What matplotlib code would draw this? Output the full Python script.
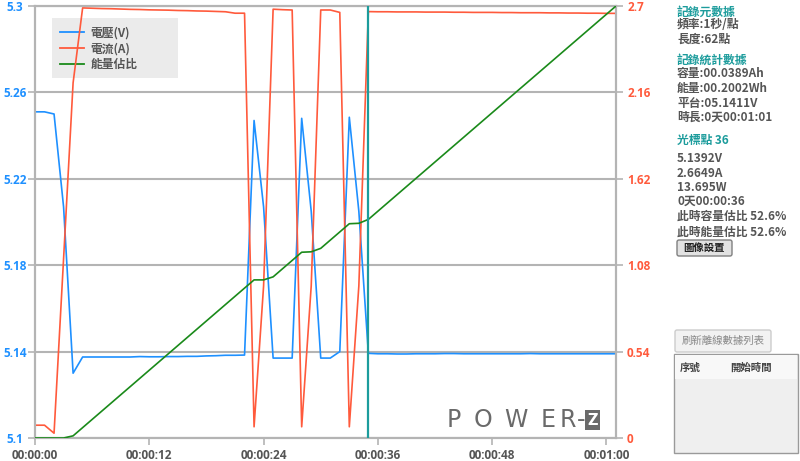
import matplotlib
matplotlib.use('Agg')
import matplotlib.pyplot as plt
from matplotlib.lines import Line2D
from matplotlib.patches import Rectangle, FancyBboxPatch

plt.rcParams['font.family'] = ['Noto Sans CJK TC', 'DejaVu Sans']

# one sample per second, 62 points
seconds = list(range(62))

# 電壓 (V)
voltage = [5.251, 5.251, 5.250, 5.207, 5.130, 5.1375, 5.1375, 5.1375, 5.1375, 5.1375,
           5.1375, 5.1377, 5.1376, 5.1376, 5.1377, 5.1377, 5.1378, 5.1378, 5.1380, 5.1381,
           5.1383, 5.1383, 5.1384, 5.247, 5.207, 5.137, 5.137, 5.137, 5.248, 5.205,
           5.137, 5.137, 5.140, 5.2485, 5.205, 5.1392, 5.1390, 5.1390, 5.1389, 5.1389,
           5.1390, 5.1390, 5.1390, 5.1391, 5.1391, 5.1390, 5.1390, 5.1390, 5.1390, 5.1390,
           5.1390, 5.1390, 5.1391, 5.1390, 5.1390, 5.1390, 5.1390, 5.1390, 5.1390, 5.1390,
           5.1390, 5.1390]

# 電流 (A)
current = [0.08, 0.08, 0.03, 1.12, 2.22, 2.688, 2.686, 2.684, 2.683, 2.681,
           2.679, 2.678, 2.676, 2.675, 2.674, 2.672, 2.671, 2.669, 2.668, 2.666,
           2.664, 2.655, 2.655, 0.07, 0.95, 2.68, 2.677, 2.675, 0.07, 0.95,
           2.675, 2.675, 2.66, 0.07, 0.95, 2.665, 2.664, 2.664, 2.663, 2.663,
           2.663, 2.662, 2.662, 2.662, 2.661, 2.661, 2.660, 2.660, 2.660, 2.659,
           2.659, 2.658, 2.658, 2.658, 2.657, 2.657, 2.656, 2.656, 2.655, 2.655,
           2.654, 2.654]

# 能量估比 (%)
energy_pct = [0, 0, 0, 0, 0.5, 2.4, 4.3, 6.2, 8.1, 10.0,
              11.9, 13.8, 15.7, 17.6, 19.5, 21.4, 23.3, 25.2, 27.1, 29.0,
              30.9, 32.8, 34.7, 36.6, 36.6, 37.3, 39.2, 41.1, 43.0, 43.1,
              43.9, 45.8, 47.7, 49.6, 49.7, 50.6, 52.5, 54.4, 56.3, 58.2,
              60.1, 62.0, 63.9, 65.8, 67.7, 69.6, 71.5, 73.4, 75.3, 77.2,
              79.1, 81.0, 82.9, 84.8, 86.7, 88.6, 90.5, 92.4, 94.3, 96.2,
              98.1, 100.0]

cursor_sec = 35

x_ticks = [0, 12, 24, 36, 48, 60]
x_labels = ['00:00:00', '00:00:12', '00:00:24', '00:00:36', '00:00:48', '00:01:00']
v_ticks = [5.1, 5.14, 5.18, 5.22, 5.26, 5.3]
v_labels = ['5.1', '5.14', '5.18', '5.22', '5.26', '5.3']
a_ticks = [0, 0.54, 1.08, 1.62, 2.16, 2.7]
a_labels = ['0', '0.54', '1.08', '1.62', '2.16', '2.7']

legend_labels = ['電壓(V)', '電流(A)', '能量佔比']

info_lines = [
    ('記錄元數據', True), ('頻率:1秒/點', False), ('長度:62點', False),
    ('記錄統計數據', True), ('容量:00.0389Ah', False), ('能量:00.2002Wh', False),
    ('平台:05.1411V', False), ('時長:0天00:01:01', False),
    ('光標點 36', True), ('5.1392V', False), ('2.6649A', False), ('13.695W', False),
    ('0天00:00:36', False), ('此時容量估比 52.6%', False), ('此時能量估比 52.6%', False),
]
info_y = [12, 25, 39, 60, 74, 88, 103, 117, 140, 158, 173, 187, 201, 216, 232]

BLUE = '#1e90ff'
RED = '#ff5a3c'
GREEN = '#1a8a1a'
TEAL = '#1c9c9c'
GRID = '#b4b4b4'
GRAYTXT = '#555555'

W, H = 800, 461
fig = plt.figure(figsize=(W / 100, H / 100), dpi=100)
ax = fig.add_axes([35 / W, 1 - 438 / H, (616 - 35) / W, 432 / H])

ax.plot(seconds, voltage, color=BLUE, lw=1.2)
ax.set_xlim(0, 61)
ax.set_ylim(5.1, 5.3)
ax.set_axisbelow(True)
ax.yaxis.grid(True, color=GRID, lw=1.5)
ax.set_yticks(v_ticks, v_labels)
ax.set_xticks(x_ticks, x_labels)
ax.tick_params(axis='y', length=5, width=1.2, color=GRID, labelcolor=BLUE, labelsize=8.5, pad=9.5)
ax.tick_params(axis='x', length=5, width=1.2, color=GRID, labelcolor=GRAYTXT, labelsize=8.5, pad=3)
for lab in ax.get_yticklabels():
    lab.set_horizontalalignment('center')
    lab.set_fontfamily('Open Sans')
    lab.set_fontweight('bold')
for lab in ax.get_xticklabels():
    lab.set_fontfamily('Open Sans')
    lab.set_fontweight('bold')
for s in ax.spines.values():
    s.set_color(GRID)
    s.set_linewidth(1.5)

ax2 = ax.twinx()
ax2.plot(seconds, current, color=RED, lw=1.2)
ax2.set_ylim(0, 2.7)
ax2.set_yticks(a_ticks, a_labels)
ax2.tick_params(axis='y', length=5, width=1.2, color=GRID, labelcolor=RED, labelsize=8.5, pad=3)
for lab in ax2.get_yticklabels():
    lab.set_fontfamily('Open Sans')
    lab.set_fontweight('bold')
for s in ax2.spines.values():
    s.set_color(GRID)
    s.set_linewidth(1.5)

ax3 = ax.twinx()
ax3.plot(seconds, energy_pct, color=GREEN, lw=1.2)
ax3.set_ylim(0, 100)
ax3.axis('off')
ax3.axvline(cursor_sec, color=TEAL, lw=1.6)

# legend box (wider than the entries, like the reference)
ax.add_patch(Rectangle(((52 - 35) / 581, (438 - 78) / 432), 126 / 581, 60 / 432,
                       transform=ax.transAxes, facecolor='#ebebeb', edgecolor='none', zorder=1))
handles = [Line2D([], [], color=c, lw=1.3) for c in (BLUE, RED, GREEN)]
leg = ax.legend(handles, legend_labels, loc='upper left', bbox_to_anchor=(0.029, 0.972),
                borderaxespad=0, frameon=False, handlelength=2.0, handletextpad=0.6,
                labelspacing=0.25, borderpad=0.7, prop={'size': 8.5, 'weight': 'bold'})
for t in leg.get_texts():
    t.set_color(GRAYTXT)

# overlay in pixel coordinates for side panel and logo
ov = fig.add_axes([0, 0, 1, 1])
ov.set_xlim(0, W)
ov.set_ylim(H, 0)
ov.axis('off')
ov.patch.set_alpha(0)

for (txt, head), y in zip(info_lines, info_y):
    ov.text(677, y, txt, fontsize=8.5, fontweight='bold', va='center', ha='left',
            color=TEAL if head else GRAYTXT)

ov.add_patch(FancyBboxPatch((677, 240), 55, 16, boxstyle='round,pad=0,rounding_size=2',
                            facecolor='#e2e2e2', edgecolor='#808080', lw=1))
ov.text(704.5, 248, '圖像設置', fontsize=7.5, fontweight='bold', ha='center', va='center', color='#222222')

ov.add_patch(FancyBboxPatch((675, 330), 96, 22, boxstyle='round,pad=0,rounding_size=2',
                            facecolor='#f2f2f2', edgecolor='#cccccc', lw=1))
ov.text(723, 341, '刷新離線數據列表', fontsize=7.5, ha='center', va='center', color='#888888')

ov.add_patch(Rectangle((674, 354), 124, 99, facecolor='#efefef', edgecolor='#9a9a9a', lw=1))
ov.add_patch(Rectangle((675, 355), 122, 24, facecolor='#f8f8f8', edgecolor='none'))
ov.text(690, 368, '序號', fontsize=7.5, fontweight='bold', ha='center', va='center', color='#444444')
ov.text(751, 368, '開始時間', fontsize=7.5, fontweight='bold', ha='center', va='center', color='#444444')

# POWER-Z logo
logo_x = [454, 483, 516, 548, 568, 581]
for ch, x in zip('POWER-', logo_x):
    ov.text(x, 420, ch, fontsize=17, family='DejaVu Sans', fontweight='normal',
            ha='center', va='center', color='#6a6a6a')
ov.text(592.5, 420, 'Z', fontsize=10.5, family='DejaVu Sans', fontweight='bold', ha='center', va='center',
        color='white', bbox=dict(boxstyle='square,pad=0.15', facecolor='#6a6a6a', edgecolor='none'))

fig.savefig('out.png', dpi=100, facecolor='white')
